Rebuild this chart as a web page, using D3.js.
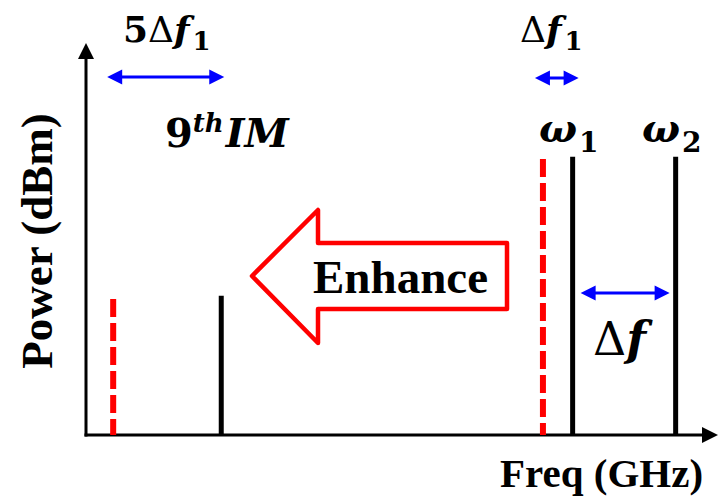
<!DOCTYPE html>
<html>
<head>
<meta charset="utf-8">
<script src="https://cdn.jsdelivr.net/npm/d3@7"></script>
<style>
  html, body { margin: 0; padding: 0; background: #fff; }
  svg { display: block; }
  text { font-family: "Liberation Serif", "Times New Roman", serif; font-weight: bold; }
  text.math { font-family: "DejaVu Serif", serif; }
</style>
</head>
<body>
<div id="chart"></div>
<script>
// Spectrum sketch: two carriers, the shifted copy of ω1 and the 9th-order IM product
const toneNames  = ["IM9 (shifted)", "IM9", "ω1 (shifted)", "ω1", "ω2"];
const toneFreqs  = [4.3, 21.4, 72.3, 77.0, 93.3];   // arbitrary frequency units
const tonePowers = [34.7, 35.5, 70.4, 71.0, 71.0];  // arbitrary power units
const toneKinds  = ["shifted", "tone", "shifted", "tone", "tone"];

const axisTitles = { x: "Freq (GHz)", y: "Power (dBm)" };

const W = 719, H = 496;
const origin = { x: 86, y: 435 };

const x = d3.scaleLinear().domain([0, 100]).range([origin.x, 718]);
const y = d3.scaleLinear().domain([0, 100]).range([origin.y, 43]);

const svg = d3.select("#chart").append("svg")
  .attr("width", W).attr("height", H);

const tones = toneNames.map((n, i) => ({ name: n, f: toneFreqs[i], p: tonePowers[i], kind: toneKinds[i] }));

// Axes (no ticks, just the baselines with arrowheads)
svg.append("g")
  .attr("transform", `translate(0,${origin.y})`)
  .call(d3.axisBottom(x).tickValues([]).tickSizeOuter(0))
  .call(g => g.select(".domain").attr("stroke", "#000").attr("stroke-width", 3).attr("d", `M${origin.x - 1.5},0H${x(100) - 10}`));

svg.append("g")
  .attr("transform", `translate(${origin.x},0)`)
  .call(d3.axisLeft(y).tickValues([]).tickSizeOuter(0))
  .call(g => g.select(".domain").attr("stroke", "#000").attr("stroke-width", 3).attr("d", `M0,${origin.y + 1.5}V${y(100) + 10}`));

// axis arrowheads
svg.append("path")
  .attr("d", `M${x(100)},${origin.y} L${x(100) - 16},${origin.y - 8} L${x(100) - 16},${origin.y + 8} Z`)
  .attr("fill", "#000");
svg.append("path")
  .attr("d", `M${origin.x},${y(100)} L${origin.x - 8},${y(100) + 16} L${origin.x + 8},${y(100) + 16} Z`)
  .attr("fill", "#000");

// spectral lines
svg.append("g").selectAll("line")
  .data(tones)
  .join("line")
  .attr("x1", d => x(d.f)).attr("x2", d => x(d.f))
  .attr("y1", d => y(d.p)).attr("y2", y(0))
  .attr("stroke", d => d.kind === "shifted" ? "#ff0000" : "#000")
  .attr("stroke-width", d => d.kind === "shifted" ? 6 : 5)
  .attr("stroke-dasharray", d => d.kind === "shifted" ? "18 6" : null);

// blue double-headed spacing arrows
function dblArrow(x1, x2, yy) {
  const g = svg.append("g").attr("fill", "#0000ff");
  const hl = 15, hw = 7.5;
  g.append("line").attr("x1", x1 + hl - 2).attr("x2", x2 - hl + 2)
    .attr("y1", yy).attr("y2", yy).attr("stroke", "#0000ff").attr("stroke-width", 3);
  g.append("path").attr("d", `M${x1},${yy} L${x1 + hl},${yy - hw} L${x1 + hl},${yy + hw} Z`);
  g.append("path").attr("d", `M${x2},${yy} L${x2 - hl},${yy - hw} L${x2 - hl},${yy + hw} Z`);
}
const f = name => x(tones.find(t => t.name === name).f);
dblArrow(f("IM9 (shifted)") - 6, f("IM9") + 3, 77);
dblArrow(f("ω1 (shifted)") - 8, f("ω1") + 6, 78);
dblArrow(f("ω1") + 8, f("ω2") - 6, 293);

// math-style labels
function mathLabel(x0, y0, size, parts) {
  const t = svg.append("text").attr("class", "math").attr("x", x0).attr("y", y0).attr("font-size", size);
  parts.forEach(p => {
    const s = t.append("tspan").text(p.t);
    if (p.it) s.attr("font-style", "italic");
    if (p.w) s.attr("font-weight", p.w);
    if (p.size) s.attr("font-size", p.size);
    if (p.dy) s.attr("dy", p.dy);
    if (p.dx) s.attr("dx", p.dx);
  });
  return t;
}
mathLabel(123, 42, 36, [{ t: "5" }, { t: "Δ", w: "normal" }, { t: "f", it: true }, { t: "1", size: 26, dy: 8, dx: 3 }]);
mathLabel(520, 42, 36, [{ t: "Δ", w: "normal" }, { t: "f", it: true }, { t: "1", size: 26, dy: 8, dx: 3 }]);
mathLabel(165, 147, 40, [{ t: "9" }, { t: "th", it: true, size: 26, dy: -15 }, { t: "IM", it: true, dy: 15, dx: 2 }]);
mathLabel(539, 142, 40, [{ t: "ω", it: true }, { t: "1", size: 28, dy: 10, dx: 2 }]);
mathLabel(642, 142, 40, [{ t: "ω", it: true }, { t: "2", size: 28, dy: 10, dx: 2 }]);
mathLabel(593, 355, 46, [{ t: "Δ", w: "normal" }, { t: "f", it: true }]);

// "Enhance" block arrow pointing toward lower frequency
const arrowPts = [[252, 276], [318, 210], [318, 243], [507, 243], [507, 309], [318, 309], [318, 343]];
svg.append("path")
  .attr("d", d3.line()(arrowPts) + "Z")
  .attr("fill", "#fff").attr("stroke", "#ff0000").attr("stroke-width", 4.5)
  .attr("stroke-linejoin", "round");
svg.append("text").attr("x", 313).attr("y", 293).attr("font-size", 47).text("Enhance");

// axis titles
svg.append("text").attr("x", 500).attr("y", 487).attr("font-size", 41).text(axisTitles.x);
svg.append("text")
  .attr("transform", `translate(52,241) rotate(-90)`)
  .attr("text-anchor", "middle").attr("font-size", 45).text(axisTitles.y);
</script>
</body>
</html>
